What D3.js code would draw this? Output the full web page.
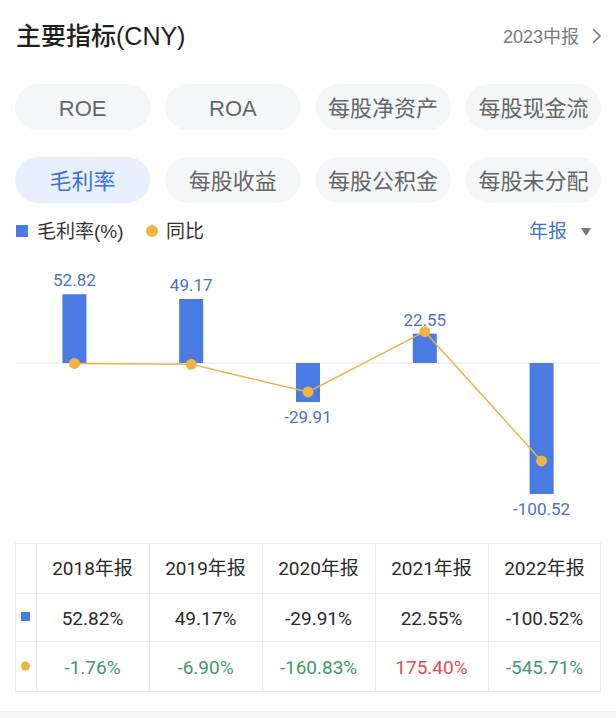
<!DOCTYPE html>
<html><head><meta charset="utf-8">
<script src="https://cdn.jsdelivr.net/npm/d3@7/dist/d3.min.js"></script>
<style>
html,body{margin:0;padding:0;background:#fff;}
svg{display:block;font-family:Roboto,"Noto Sans CJK SC",sans-serif;}
</style></head><body>
<script>
const categories = ["2018年报","2019年报","2020年报","2021年报","2022年报"];
const grossMargin = [52.82, 49.17, -29.91, 22.55, -100.52];
const yoy = [-1.76, -6.90, -160.83, 175.40, -545.71];
const tabsRow1 = ["ROE","ROA","每股净资产","每股现金流"];
const tabsRow2 = ["毛利率","每股收益","每股公积金","每股未分配"];
const activeTab = "毛利率";
const barDomain = [-120, 80];
const lineDomain = [-872, 582];

const W = 616, H = 718;
const svg = d3.select("body").append("svg").attr("width", W).attr("height", H);
const CN = '"Noto Sans CJK SC",sans-serif';
const HV = '"Liberation Sans","Noto Sans CJK SC",sans-serif';

// header
svg.append("text").attr("x",16).attr("y",45).attr("font-size",25).attr("font-weight",500)
  .attr("fill","#1f1f1f").attr("font-family",HV).text("主要指标(CNY)");
svg.append("text").attr("x",579).attr("y",43).attr("text-anchor","end").attr("font-size",18)
  .attr("fill","#7a7a7a").attr("font-family",HV).text("2023中报");
svg.append("path").attr("d","M593,29 L600,36 L593,43").attr("fill","none").attr("stroke","#7a7a7a").attr("stroke-width",1.6);

// tabs
const tabX = d3.scaleBand().domain(d3.range(4)).range([15,601]).paddingInner(0.1).paddingOuter(0);
function tabs(list, y){
  const g = svg.append("g");
  list.forEach((t,i)=>{
    const act = t===activeTab;
    g.append("rect").attr("x",tabX(i)).attr("y",y).attr("width",tabX.bandwidth()).attr("height",46)
      .attr("rx",23).attr("fill",act?"#e8f0fd":"#f5f6f8");
    g.append("text").attr("x",tabX(i)+tabX.bandwidth()/2).attr("y",y+31.5).attr("text-anchor","middle")
      .attr("font-size",22).attr("fill",act?"#3a72d8":"#666").attr("font-family",HV).text(t);
  });
}
tabs(tabsRow1, 84);
tabs(tabsRow2, 157);

// legend
svg.append("rect").attr("x",16).attr("y",225).attr("width",12).attr("height",12).attr("fill","#4a7be3");
svg.append("text").attr("x",37).attr("y",238).attr("font-size",19).attr("fill","#333").attr("font-family",HV).text("毛利率(%)");
svg.append("circle").attr("cx",152).attr("cy",231).attr("r",6).attr("fill","#f1b343");
svg.append("text").attr("x",166).attr("y",238).attr("font-size",19).attr("fill","#333").attr("font-family",CN).text("同比");
svg.append("text").attr("x",529).attr("y",238).attr("font-size",19).attr("fill","#3a72d8").attr("font-family",CN).text("年报");
svg.append("path").attr("d","M581,228 L591,228 L586,236 Z").attr("fill","#777");

// chart
const x = d3.scaleBand().domain(categories).range([16,600]);
const yBar = d3.scaleLinear().domain(barDomain).range([519.4,258.8]);
const yLine = d3.scaleLinear().domain(lineDomain).range([519.4,258.8]);
svg.append("line").attr("x1",16).attr("x2",600).attr("y1",yBar(0)).attr("y2",yBar(0)).attr("stroke","#e3e3e3").attr("stroke-width",1);
const bw = 24;
svg.append("g").selectAll("rect").data(grossMargin).join("rect")
  .attr("x",(d,i)=>x(categories[i])+x.bandwidth()/2-bw/2)
  .attr("y",d=>d>=0?yBar(d):yBar(0))
  .attr("width",bw).attr("height",d=>Math.abs(yBar(d)-yBar(0)))
  .attr("fill","#4a7be3");
svg.append("g").selectAll("text").data(grossMargin).join("text")
  .attr("x",(d,i)=>x(categories[i])+x.bandwidth()/2)
  .attr("y",d=>d>=0?yBar(d)-8:yBar(d)+21)
  .attr("text-anchor","middle").attr("font-size",17).attr("fill","#4a72c8")
  .attr("font-family","Roboto,sans-serif")
  .text(d=>d.toFixed(2));
const line = d3.line().x((d,i)=>x(categories[i])+x.bandwidth()/2).y(d=>yLine(d));
svg.append("path").datum(yoy).attr("d",line).attr("fill","none").attr("stroke","#eab44a").attr("stroke-width",1.5);
svg.append("g").selectAll("circle").data(yoy).join("circle")
  .attr("cx",(d,i)=>x(categories[i])+x.bandwidth()/2).attr("cy",d=>yLine(d)).attr("r",5.5).attr("fill","#f1b343");

// table
const tx0 = 15, tx1 = 601, firstW = 21;
const colX = d3.scaleBand().domain(categories).range([tx0+firstW, tx1]);
const rowY = [543, 593, 641, 692];
const tg = svg.append("g");
tg.append("rect").attr("x",tx0+0.5).attr("y",rowY[0]+0.5).attr("width",tx1-tx0-1).attr("height",rowY[3]-rowY[0]-1)
  .attr("fill","none").attr("stroke","#e8e8e8");
[rowY[1],rowY[2]].forEach(y=>tg.append("line").attr("x1",tx0).attr("x2",tx1).attr("y1",y+0.5).attr("y2",y+0.5).attr("stroke","#ececec"));
[tx0+firstW].concat(categories.slice(1).map(c=>colX(c))).forEach(xx=>
  tg.append("line").attr("x1",xx+0.5).attr("x2",xx+0.5).attr("y1",rowY[0]).attr("y2",rowY[3]).attr("stroke","#ececec"));
const mid = c=>colX(c)+colX.bandwidth()/2;
tg.selectAll("text.h").data(categories).join("text").attr("class","h")
  .attr("x",d=>mid(d)).attr("y",(rowY[0]+rowY[1])/2+7).attr("text-anchor","middle")
  .attr("font-size",19).attr("fill","#2a2a2a").text(d=>d);
tg.selectAll("text.v").data(grossMargin).join("text").attr("class","v")
  .attr("x",(d,i)=>mid(categories[i])).attr("y",(rowY[1]+rowY[2])/2+8).attr("text-anchor","middle")
  .attr("font-size",19).attr("fill","#2a2a2a").text(d=>d.toFixed(2)+"%");
tg.selectAll("text.y").data(yoy).join("text").attr("class","y")
  .attr("x",(d,i)=>mid(categories[i])).attr("y",(rowY[2]+rowY[3])/2+7).attr("text-anchor","middle")
  .attr("font-size",19).attr("fill",d=>d>=0?"#d8504f":"#3f9a6a").text(d=>d.toFixed(2)+"%");
tg.append("rect").attr("x",21).attr("y",612).attr("width",9).attr("height",9).attr("fill","#4a7be3");
tg.append("circle").attr("cx",25.5).attr("cy",666).attr("r",4.5).attr("fill","#f1b343");

// bottom band
svg.append("rect").attr("x",0).attr("y",711).attr("width",W).attr("height",7).attr("fill","#f4f5f7");
</script>
</body></html>
